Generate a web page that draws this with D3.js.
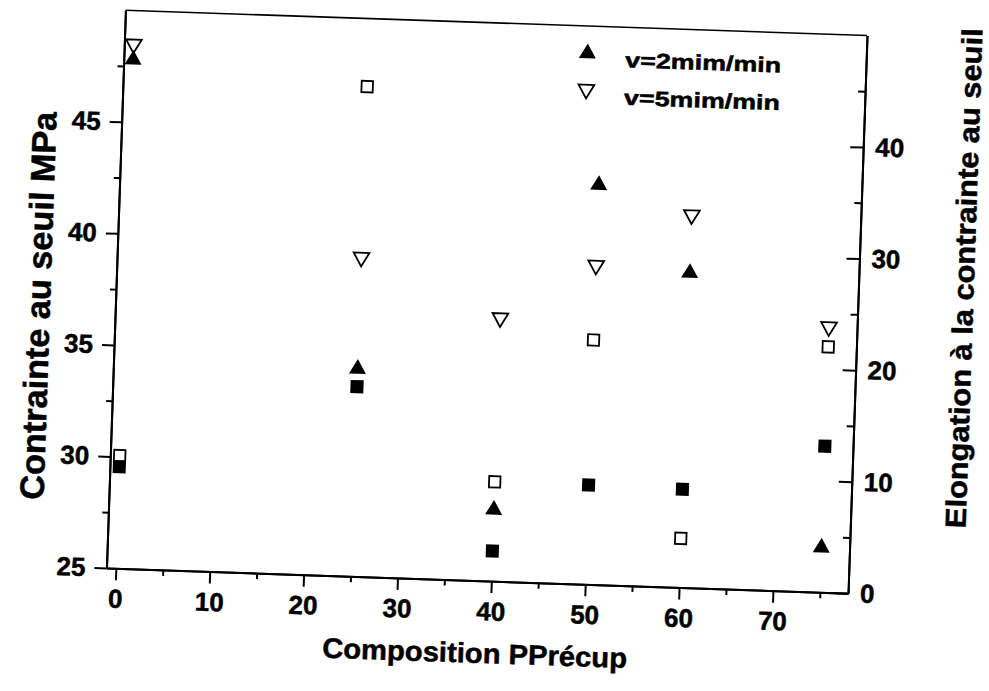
<!DOCTYPE html>
<html><head><meta charset="utf-8">
<script src="https://cdn.jsdelivr.net/npm/d3@7"></script>
<style>
body{margin:0;background:#fff}
text{font-family:"Liberation Sans",Arial,Helvetica,sans-serif;font-weight:bold;fill:#000;stroke:#000;stroke-width:0.5px}
</style>
</head><body>
<svg id="chart" width="989" height="691"></svg>
<script>
// ---- data ----
const composition   = [0, 25, 40, 50, 60, 75];
const contrainteV2  = [47.8, 34.3, 28.2, 42.9, 39.1, 27.0];   // filled triangles, left axis
const contrainteV5  = [48.5, 39.3, 36.8, 39.3, 41.7, 36.9];   // open down-triangles, left axis
const elongationV2  = [9.1, 17.0, 2.7, 8.9, 8.8, 13.1];       // filled squares, right axis
const elongationV5  = [10.1, 43.9, 8.9, 21.9, 4.4, 22.0];     // open squares, right axis
const xTicks      = [0, 10, 20, 30, 40, 50, 60, 70];
const xMinor      = [5, 15, 25, 35, 45, 55, 65, 75];
const yLeftTicks  = [25, 30, 35, 40, 45];
const yLeftMinor  = [27.5, 32.5, 37.5, 42.5, 47.5];
const yRightTicks = [0, 10, 20, 30, 40];
const yRightMinor = [5, 15, 25, 35, 45];
const legendLabels = ["v=2mim/min", "v=5mim/min"];
const xTitle = "Composition PPrécup";
const yLeftTitle = "Contrainte au seuil MPa";
const yRightTitle = "Elongation à la contrainte au seuil";

// ---- layout ----
const L = 115.75, R = 857.75, T = 22.75, B = 580.75;
const cx = (L + R) / 2, cy = (T + B) / 2;
const tilt = 1.95;

const svg = d3.select("#chart");
const g = svg.append("g").attr("transform", `rotate(${tilt},${cx},${cy})`);

const x = d3.scaleLinear().domain([-1, 78]).range([L, R]);
const yL = d3.scaleLinear().domain([25, 50]).range([B, T]);
const yR = d3.scaleLinear().domain([0, 50]).range([B, T]);

function styleAxis(sel) {
  sel.selectAll("path.domain").attr("stroke", "#000").attr("stroke-width", 2);
  sel.selectAll(".tick line").attr("stroke", "#000").attr("stroke-width", 2);
  sel.selectAll("text").attr("font-size", 26).attr("font-family", null).attr("fill", "#000");
}

// bottom axis
const xa = g.append("g").attr("transform", `translate(0,${B})`)
  .call(d3.axisBottom(x).tickValues(xTicks).tickSize(12).tickSizeOuter(0).tickPadding(9).tickFormat(d3.format("d")));
styleAxis(xa);
const xm = g.append("g").attr("transform", `translate(0,${B})`)
  .call(d3.axisBottom(x).tickValues(xMinor).tickSize(6).tickSizeOuter(0).tickFormat(""));
styleAxis(xm);

// left axis
const yla = g.append("g").attr("transform", `translate(${L},0)`)
  .call(d3.axisLeft(yL).tickValues(yLeftTicks).tickSize(12).tickSizeOuter(0).tickPadding(9).tickFormat(d3.format("d")));
styleAxis(yla);
const ylm = g.append("g").attr("transform", `translate(${L},0)`)
  .call(d3.axisLeft(yL).tickValues(yLeftMinor).tickSize(6).tickSizeOuter(0).tickFormat(""));
styleAxis(ylm);

// right axis (ticks inward)
const yra = g.append("g").attr("transform", `translate(${R},0)`)
  .call(d3.axisRight(yR).tickValues(yRightTicks).tickSize(-13).tickSizeOuter(0).tickPadding(12).tickFormat(d3.format("d")));
styleAxis(yra);
const yrm = g.append("g").attr("transform", `translate(${R},0)`)
  .call(d3.axisRight(yR).tickValues(yRightMinor).tickSize(-7).tickSizeOuter(0).tickFormat(""));
styleAxis(yrm);

// top border
g.append("line").attr("x1", L).attr("x2", R).attr("y1", T).attr("y2", T)
  .attr("stroke", "#000").attr("stroke-width", 1.6);

// ---- markers ----
const triUp = d3.symbol().type(d3.symbolTriangle).size(125)();
const triOpen = d3.symbol().type(d3.symbolTriangle).size(108)();
const sqFilled = d3.symbol().type(d3.symbolSquare).size(170)();
const sqOpen = d3.symbol().type(d3.symbolSquare).size(128)();

const pts = (ys) => composition.map((c, i) => ({c, v: ys[i]}));

g.append("g").selectAll("path").data(pts(elongationV5)).join("path")
  .attr("d", sqOpen).attr("transform", d => `translate(${x(d.c)},${yR(d.v)})`)
  .attr("fill", "#fff").attr("stroke", "#000").attr("stroke-width", 1.8);
g.append("g").selectAll("path").data(pts(elongationV2)).join("path")
  .attr("d", sqFilled).attr("transform", d => `translate(${x(d.c)},${yR(d.v)})`)
  .attr("fill", "#000");
g.append("g").selectAll("path").data(pts(contrainteV5)).join("path")
  .attr("d", triOpen).attr("transform", d => `translate(${x(d.c)},${yL(d.v)}) rotate(180)`)
  .attr("fill", "none").attr("stroke", "#000").attr("stroke-width", 1.8);
g.append("g").selectAll("path").data(pts(contrainteV2)).join("path")
  .attr("d", triUp).attr("transform", d => `translate(${x(d.c)},${yL(d.v)})`)
  .attr("fill", "#000");

// ---- legend ----
const leg = g.append("g");
leg.append("path").attr("d", triUp).attr("transform", "translate(579,50)").attr("fill", "#000");
leg.append("path").attr("d", triOpen).attr("transform", "translate(579,86) rotate(180)")
  .attr("fill", "none").attr("stroke", "#000").attr("stroke-width", 1.8);
leg.selectAll("text").data(legendLabels).join("text")
  .attr("x", 617).attr("y", (d, i) => 62.6 + i * 37.7)
  .attr("font-size", 21).attr("textLength", 156).attr("lengthAdjust", "spacingAndGlyphs")
  .text(d => d);

// ---- titles ----
g.append("text").attr("x", 486.6).attr("y", 663).attr("text-anchor", "middle")
  .attr("font-size", 28).attr("textLength", 305).attr("lengthAdjust", "spacingAndGlyphs")
  .text(xTitle);
g.append("text").attr("transform", "translate(50.4,321) rotate(-90)").attr("text-anchor", "middle")
  .attr("font-size", 34).attr("textLength", 388).attr("lengthAdjust", "spacingAndGlyphs")
  .text(yLeftTitle);
g.append("text").attr("transform", "translate(973,262) rotate(-90)").attr("text-anchor", "middle")
  .attr("font-size", 29).attr("textLength", 500).attr("lengthAdjust", "spacingAndGlyphs")
  .text(yRightTitle);
</script>
</body></html>
